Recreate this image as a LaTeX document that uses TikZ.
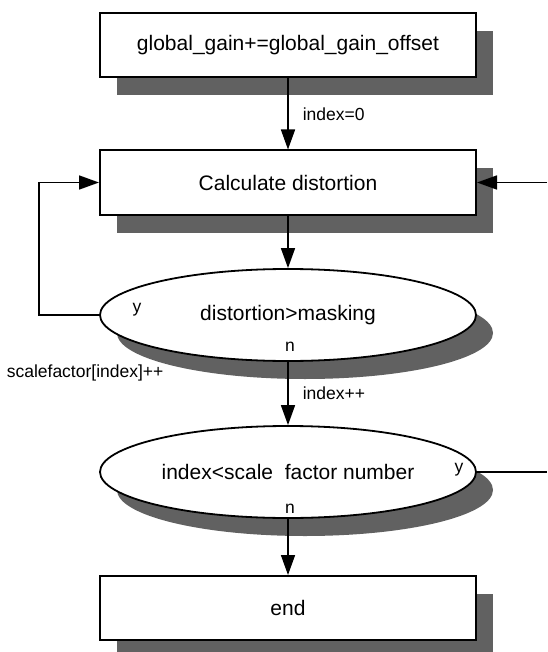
\documentclass[tikz,border=0pt]{standalone}
\usepackage{fontspec}
\setmainfont{Liberation Sans}
\usetikzlibrary{shapes.geometric,shadows,arrows.meta}

\begin{document}
\begin{tikzpicture}[x=0.5pt,y=0.5pt,->,>={Triangle[length=10pt,width=7pt]},line width=0.8pt,
		node distance=68.5pt,
		shd/.style={drop shadow={shadow xshift=8.5pt,shadow yshift=-9pt,fill=black!62,opacity=1}},
		proc box/.style={rectangle,draw,line width=1pt,fill=white,shd,minimum width=188pt,minimum height=32pt,inner sep=0pt,font=\fontsize{10.5}{12}\selectfont},
		test node/.style={ellipse,draw,line width=0.9pt,fill=white,shd,minimum width=188pt,minimum height=46pt,inner sep=0pt,font=\fontsize{10.5}{12}\selectfont},
		lbl/.style={font=\fontsize{8.75}{10}\selectfont,inner sep=1pt}]
		\useasboundingbox (0,0) rectangle (547,-652);
		\clip (0,0) rectangle (547,-652);
		% 量化循环
		\node[proc box] (gain) at (288,-45.5) {global\_gain+=global\_gain\_offset};
		\node[proc box] (calc) [below of=gain] {Calculate distortion};
		\node[test node] (cond1) [below of=calc,node distance=66.25pt] {distortion>masking};
		\node[test node] (cond2) [below of=cond1,node distance=78.5pt] {index<scale~~factor number};
		\node[proc box] (stop) [below of=cond2,node distance=68pt] {end};
		\node[lbl] (y1) at ([shift={(38,5)}]cond1.west) {y};
		\node[lbl] (n1) at ([shift={(2,15)}]cond1.south) {n};
		\node[lbl] (y2) at ([shift={(-18,2)}]cond2.east) {y};
		\node[lbl] (n2) at ([shift={(2,10)}]cond2.south) {n};
		\node[lbl,anchor=west] (sfinc) at (4,-373) {scalefactor[index]++};
		\coordinate (rin) at (547,-182.5);
		\coordinate (rout) at (547,-472);
		\path[->]
		(gain) edge node [lbl,right,xshift=6pt] {index=0} (calc)
		(calc) edge (cond1)
		(cond1) edge node [lbl,right,xshift=6pt] {index++} (cond2)
		(cond2) edge (stop)
		(rin) edge (calc.east);
		\draw[->] (cond1.west) -- ++(-60,0) |- (calc.west);
		\draw[-] (cond2.east) -- (rout);
		\end{tikzpicture}
\end{document}
